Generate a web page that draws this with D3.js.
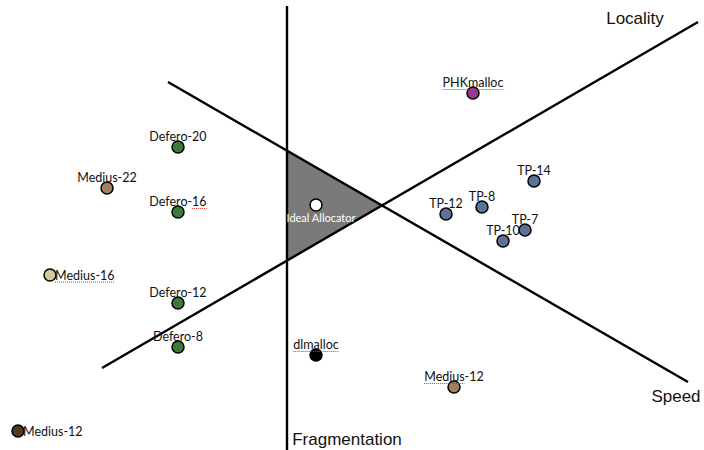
<!DOCTYPE html>
<html><head><meta charset="utf-8">
<script src="https://cdn.jsdelivr.net/npm/d3@7"></script>
<style>
html,body{margin:0;padding:0;background:#fff;}
svg{display:block;}
</style></head>
<body>
<script>
// ---- data (diagram coordinates) ----
const names   = ["Defero-20","Medius-22","Defero-16","Medius-16","Defero-12","Defero-8","Ideal Allocator","PHKmalloc","TP-14","TP-12","TP-8","TP-7","TP-10","dlmalloc","Medius-12","Medius-12"];
const xs      = [178,107,178,50,178,178,316,473,534,446,482,525,503,316,454,18];
const ys      = [147,188,212,275,303,347,205,93,181,214,207,230,241,355,387,431];
const groups  = ["Defero","Medius A","Defero","Medius B","Defero","Defero","Ideal","PHK","TP","TP","TP","TP","TP","dl","Medius A","Medius C"];
const labelSide = ["above","above","above","right","above","above","inside","above","above","above","above","above","above","above","above","right"];
const spellMark = ["","","tail2","all","","","","all","","","","","","all","head6",""];
const groupKeys   = ["Defero","Medius A","Medius B","Medius C","Ideal","PHK","TP","dl"];
const groupColors = ["#3d7a3a","#a2805e","#d4c99b","#4f3a22","#ffffff","#9a3a95","#5b7396","#000000"];
// three trade-off axes (line endpoints)
const axisNames = ["Fragmentation","Locality","Speed"];
const axisX1 = [287,102,168], axisY1 = [6,368,82];
const axisX2 = [287,698,688], axisY2 = [450,22,382];
const axisLabelX = [347,635,676], axisLabelY = [439,18,396];
// ideal region (triangle)
const triX = [287,382,287], triY = [150,205,261];

const W=704,H=450;
const x = d3.scaleLinear().domain([0,704]).range([0,W]);
const y = d3.scaleLinear().domain([0,450]).range([0,H]);
const color = d3.scaleOrdinal().domain(groupKeys).range(groupColors);

const svg = d3.select("body").append("svg").attr("width",W).attr("height",H);

svg.append("polygon")
  .attr("points", triX.map((v,i)=>x(v)+","+y(triY[i])).join(" "))
  .attr("fill","#7a7a7a").attr("stroke","none");

svg.selectAll("line.axis").data(axisNames).join("line").attr("class","axis")
  .attr("x1",(d,i)=>x(axisX1[i])).attr("y1",(d,i)=>y(axisY1[i]))
  .attr("x2",(d,i)=>x(axisX2[i])).attr("y2",(d,i)=>y(axisY2[i]))
  .attr("stroke","#000").attr("stroke-width",2.4);

svg.selectAll("text.axisLabel").data(axisNames).join("text").attr("class","axisLabel")
  .attr("x",(d,i)=>x(axisLabelX[i])).attr("y",(d,i)=>y(axisLabelY[i]))
  .attr("dy","0.35em").attr("text-anchor","middle")
  .attr("font-family","'Liberation Sans',Arial,sans-serif").attr("font-size",17)
  .attr("fill","#111").text(d=>d);

const idx = d3.range(names.length);
svg.selectAll("circle.pt").data(idx).join("circle").attr("class","pt")
  .attr("cx",i=>x(xs[i])).attr("cy",i=>y(ys[i])).attr("r",6)
  .attr("fill",i=>color(groups[i])).attr("stroke","#000").attr("stroke-width",1.5);

const labels = svg.selectAll("text.lbl").data(idx).join("text").attr("class","lbl")
  .attr("font-family","Lato,'Open Sans',sans-serif")
  .attr("font-size",i=>labelSide[i]==="inside"?11:12.5)
  .attr("fill",i=>labelSide[i]==="inside"?"#fff":"#111")
  .attr("text-anchor",i=>labelSide[i]==="right"?"start":"middle")
  .attr("x",i=>labelSide[i]==="right"?x(xs[i])+5:(labelSide[i]==="inside"?x(xs[i])+5:x(xs[i])))
  .attr("y",i=>labelSide[i]==="right"?y(ys[i])+4.5:(labelSide[i]==="inside"?y(ys[i])+17:y(ys[i])-6))
  .text(i=>names[i]);

// spell-check style dotted underlines
labels.each(function(i){
  const m = spellMark[i]; if(!m) return;
  const n = names[i].length;
  let s=0,e=n;
  if(m.startsWith("tail")) s = n - (+m.slice(4));
  if(m.startsWith("head")) e = +m.slice(4);
  const start = this.getStartPositionOfChar(0).x;
  const x0 = start + (s>0?this.getSubStringLength(0,s):0);
  const x1 = start + this.getSubStringLength(0,e);
  const by = +this.getAttribute("y")+2.5;
  svg.append("line").attr("x1",x0).attr("x2",x1).attr("y1",by).attr("y2",by)
    .attr("stroke","#e03030").attr("stroke-width",1).attr("stroke-dasharray","1,1");
});
</script>
</body></html>
